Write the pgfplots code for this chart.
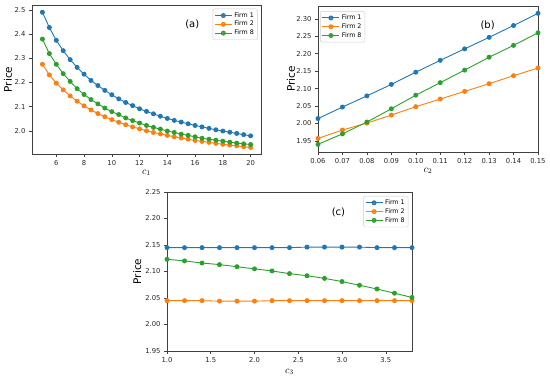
\documentclass[border=0pt]{standalone}
\usepackage{fontspec}
\setmainfont{DejaVu Sans}
\usepackage{pgfplots}
\pgfplotsset{compat=1.18}
\definecolor{c0}{HTML}{1F77B4}
\definecolor{c1}{HTML}{FF7F0E}
\definecolor{c2}{HTML}{2CA02C}
\pgfplotsset{
  mystyle/.style={
    scale only axis,
    axis line style={black!75, line width=0.6pt},
    tick style={black!75, line width=0.5pt},
    tick align=outside, major tick length=3pt,
    xtick pos=bottom, ytick pos=left,
    scaled ticks=false,
    /pgf/number format/assume math mode=true,
    ticklabel style={font=\fontsize{6.8}{8}\selectfont, text=black!85},
    every axis y label/.style={rotate=90, anchor=center, font=\fontsize{10.5}{12}\selectfont},
    every axis x label/.style={anchor=center, font=\fontsize{10}{12}\selectfont},
    legend style={font=\fontsize{6.3}{7}\selectfont, draw=black!20, rounded corners=1.5pt,
      inner sep=1.5pt, row sep=-1.5pt, cells={anchor=west}, fill=white, fill opacity=0.8, text opacity=1},
    every axis plot/.append style={line width=0.9pt, mark=*, mark size=2pt, mark options={solid}},
  }
}
\begin{document}
\begin{tikzpicture}
\path[use as bounding box] (0,0) rectangle (550pt,382pt);
% (a)
\begin{axis}[mystyle, at={(32pt,228pt)}, anchor=south west, width=229pt, height=149pt,
  xmin=4.25, xmax=20.75, ymin=1.904, ymax=2.52,
  xtick={6,8,...,20}, ytick={2.0,2.1,2.2,2.3,2.4,2.5},
  yticklabel style={/pgf/number format/.cd,fixed,fixed zerofill,precision=1},
  xlabel={$c_1$}, ylabel={Price},
  xlabel style={at={(axis description cs:0.5,-0.128)}},
  ylabel style={at={(axis description cs:-0.105,0.5)}},
  legend style={at={(0.985,0.975)}, anchor=north east}]
\addplot[c0] coordinates {(5,2.490)(5.5,2.427)(6,2.374)(6.5,2.331)(7,2.294)(7.5,2.262)(8,2.234)(8.5,2.208)(9,2.187)(9.5,2.167)(10,2.149)(10.5,2.132)(11,2.117)(11.5,2.104)(12,2.091)(12.5,2.080)(13,2.070)(13.5,2.060)(14,2.051)(14.5,2.043)(15,2.036)(15.5,2.029)(16,2.022)(16.5,2.016)(17,2.010)(17.5,2.004)(18,1.999)(18.5,1.994)(19,1.989)(19.5,1.984)(20,1.979)};
\addlegendentry{Firm 1}
\addplot[c1] coordinates {(5,2.275)(5.5,2.231)(6,2.197)(6.5,2.169)(7,2.144)(7.5,2.122)(8,2.103)(8.5,2.086)(9,2.071)(9.5,2.058)(10,2.046)(10.5,2.035)(11,2.025)(11.5,2.016)(12,2.008)(12.5,2.000)(13,1.993)(13.5,1.987)(14,1.981)(14.5,1.975)(15,1.970)(15.5,1.965)(16,1.960)(16.5,1.956)(17,1.952)(17.5,1.948)(18,1.944)(18.5,1.941)(19,1.938)(19.5,1.934)(20,1.931)};
\addlegendentry{Firm 2}
\addplot[c2] coordinates {(5,2.379)(5.5,2.319)(6,2.275)(6.5,2.236)(7,2.204)(7.5,2.174)(8,2.150)(8.5,2.129)(9,2.111)(9.5,2.094)(10,2.079)(10.5,2.067)(11,2.053)(11.5,2.042)(12,2.032)(12.5,2.022)(13,2.014)(13.5,2.007)(14,1.999)(14.5,1.993)(15,1.986)(15.5,1.981)(16,1.975)(16.5,1.969)(17,1.965)(17.5,1.961)(18,1.957)(18.5,1.953)(19,1.949)(19.5,1.946)(20,1.943)};
\addlegendentry{Firm 8}
\node[font=\fontsize{10}{12}\selectfont] at (axis cs:15.8,2.44) {(a)};
\end{axis}
% (b)
\begin{axis}[mystyle, at={(318pt,230pt)}, anchor=south west, width=220pt, height=146pt,
  xmin=0.06, xmax=0.15, ymin=1.918, ymax=2.337,
  xtick={0.06,0.07,...,0.155}, ytick={1.95,2.00,...,2.31},
  xticklabel style={/pgf/number format/.cd,fixed,fixed zerofill,precision=2},
  yticklabel style={/pgf/number format/.cd,fixed,fixed zerofill,precision=2},
  xlabel={$c_2$}, ylabel={Price},
  xlabel style={at={(axis description cs:0.5,-0.13)}},
  ylabel style={at={(axis description cs:-0.123,0.5)}},
  legend style={at={(0.01,0.965)}, anchor=north west}]
\addplot[c0] coordinates {(0.06,2.014)(0.07,2.047)(0.08,2.079)(0.09,2.112)(0.10,2.147)(0.11,2.181)(0.12,2.214)(0.13,2.247)(0.14,2.281)(0.15,2.316)};
\addlegendentry{Firm 1}
\addplot[c1] coordinates {(0.06,1.957)(0.07,1.981)(0.08,2.001)(0.09,2.024)(0.10,2.048)(0.11,2.070)(0.12,2.092)(0.13,2.114)(0.14,2.137)(0.15,2.159)};
\addlegendentry{Firm 2}
\addplot[c2] coordinates {(0.06,1.940)(0.07,1.970)(0.08,2.004)(0.09,2.042)(0.10,2.081)(0.11,2.117)(0.12,2.153)(0.13,2.190)(0.14,2.224)(0.15,2.260)};
\addlegendentry{Firm 8}
\node[font=\fontsize{10}{12}\selectfont] at (axis cs:0.1294,2.281) {(b)};
\end{axis}
% (c)
\begin{axis}[mystyle, at={(167pt,31pt)}, anchor=south west, width=245pt, height=159pt,
  xmin=1.0, xmax=3.8, ymin=1.95, ymax=2.25,
  xtick={1.0,1.5,...,3.6}, ytick={1.95,2.00,...,2.26},
  xticklabel style={/pgf/number format/.cd,fixed,fixed zerofill,precision=1},
  yticklabel style={/pgf/number format/.cd,fixed,fixed zerofill,precision=2},
  xlabel={$c_3$}, ylabel={Price},
  xlabel style={at={(axis description cs:0.5,-0.132)}},
  ylabel style={at={(axis description cs:-0.122,0.5)}},
  legend style={at={(0.985,0.975)}, anchor=north east}]
\addplot[c0] coordinates {(1.0,2.145)(1.2,2.145)(1.4,2.145)(1.6,2.145)(1.8,2.145)(2.0,2.145)(2.2,2.145)(2.4,2.145)(2.6,2.146)(2.8,2.146)(3.0,2.146)(3.2,2.146)(3.4,2.145)(3.6,2.145)(3.8,2.145)};
\addlegendentry{Firm 1}
\addplot[c1] coordinates {(1.0,2.045)(1.2,2.045)(1.4,2.045)(1.6,2.044)(1.8,2.044)(2.0,2.044)(2.2,2.045)(2.4,2.045)(2.6,2.045)(2.8,2.045)(3.0,2.045)(3.2,2.045)(3.4,2.045)(3.6,2.045)(3.8,2.045)};
\addlegendentry{Firm 2}
\addplot[c2] coordinates {(1.0,2.123)(1.2,2.120)(1.4,2.116)(1.6,2.113)(1.8,2.109)(2.0,2.105)(2.2,2.101)(2.4,2.096)(2.6,2.092)(2.8,2.087)(3.0,2.081)(3.2,2.074)(3.4,2.067)(3.6,2.059)(3.8,2.051)};
\addlegendentry{Firm 8}
\node[font=\fontsize{10}{12}\selectfont] at (axis cs:2.96,2.212) {(c)};
\end{axis}
\end{tikzpicture}
\end{document}
